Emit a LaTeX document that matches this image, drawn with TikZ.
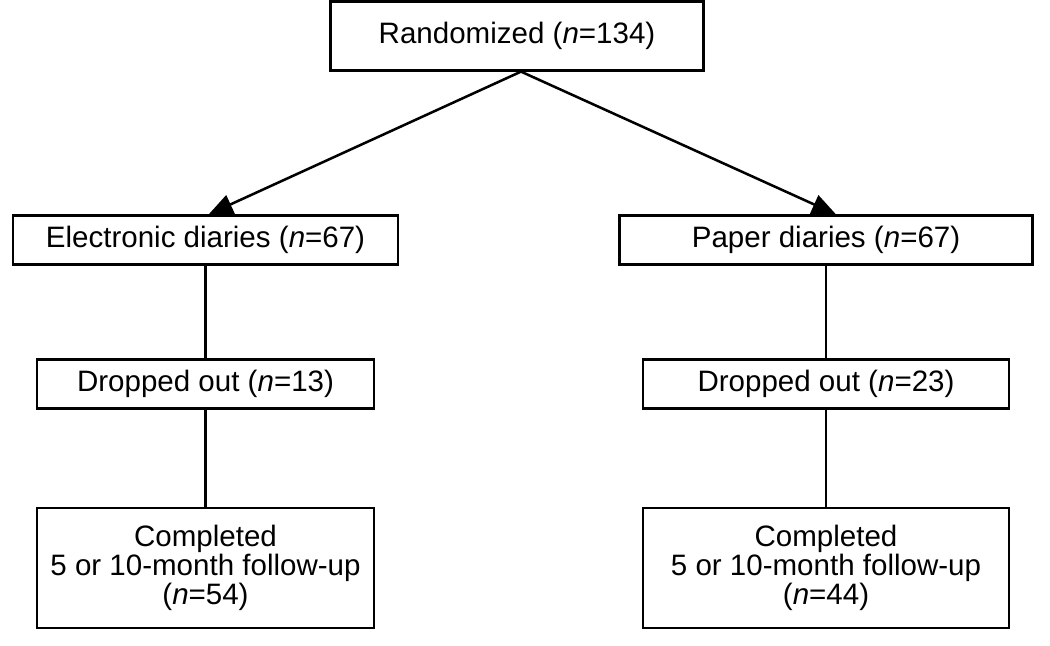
\documentclass[tikz,border=0pt]{standalone}
\usepackage{fontspec}
\setmainfont{Liberation Sans}
\usetikzlibrary{positioning}
\usetikzlibrary{arrows.meta}

\begin{document}
\begin{tikzpicture}[every node/.style={draw, rectangle, line width=1.6pt, font=\fontsize{21}{20.5}\selectfont, align=center, inner sep=0pt}]
            \useasboundingbox (0,0) rectangle (26.25,-16.15);
            % Cajas
            \node[minimum width=9.325cm, minimum height=1.725cm] (rand) at (12.925,-0.9) {Randomized (\textit{n}=134)};
            \node[minimum width=9.625cm, minimum height=1.225cm] (elec) at (5.1375,-6.0) {Electronic diaries (\textit{n}=67)};
            \node[minimum width=10.325cm, minimum height=1.225cm] (paper) at (20.65,-6.0) {Paper diaries (\textit{n}=67)};
            \node[minimum width=8.425cm, minimum height=1.225cm] (dropl) at (5.1375,-9.6) {Dropped out (\textit{n}=13)};
            \node[minimum width=9.15cm, minimum height=1.225cm] (dropr) at (20.65,-9.6) {Dropped out (\textit{n}=23)};
            \node[minimum width=8.425cm, minimum height=3.0cm] (compl) at (5.1375,-14.2) {Completed\\5 or 10-month follow-up\\(\textit{n}=54)};
            \node[minimum width=9.15cm, minimum height=3.0cm] (compr) at (20.65,-14.2) {Completed\\5 or 10-month follow-up\\(\textit{n}=44)};

            % Flechas
            \draw[-{Triangle[length=0.6cm, width=0.5cm]}, line width=1.8pt] ([xshift=0.1cm]rand.south) -- ([xshift=0.08cm]elec.north);
            \draw[-{Triangle[length=0.6cm, width=0.5cm]}, line width=1.8pt] ([xshift=0.1cm]rand.south) -- ([xshift=0.25cm]paper.north);
            \draw[line width=1.6pt] (elec) -- (dropl);
            \draw[line width=1.6pt] (dropl) -- (compl);
            \draw[line width=1.6pt] (paper) -- (dropr);
            \draw[line width=1.6pt] (dropr) -- (compr);
          \end{tikzpicture}
\end{document}
